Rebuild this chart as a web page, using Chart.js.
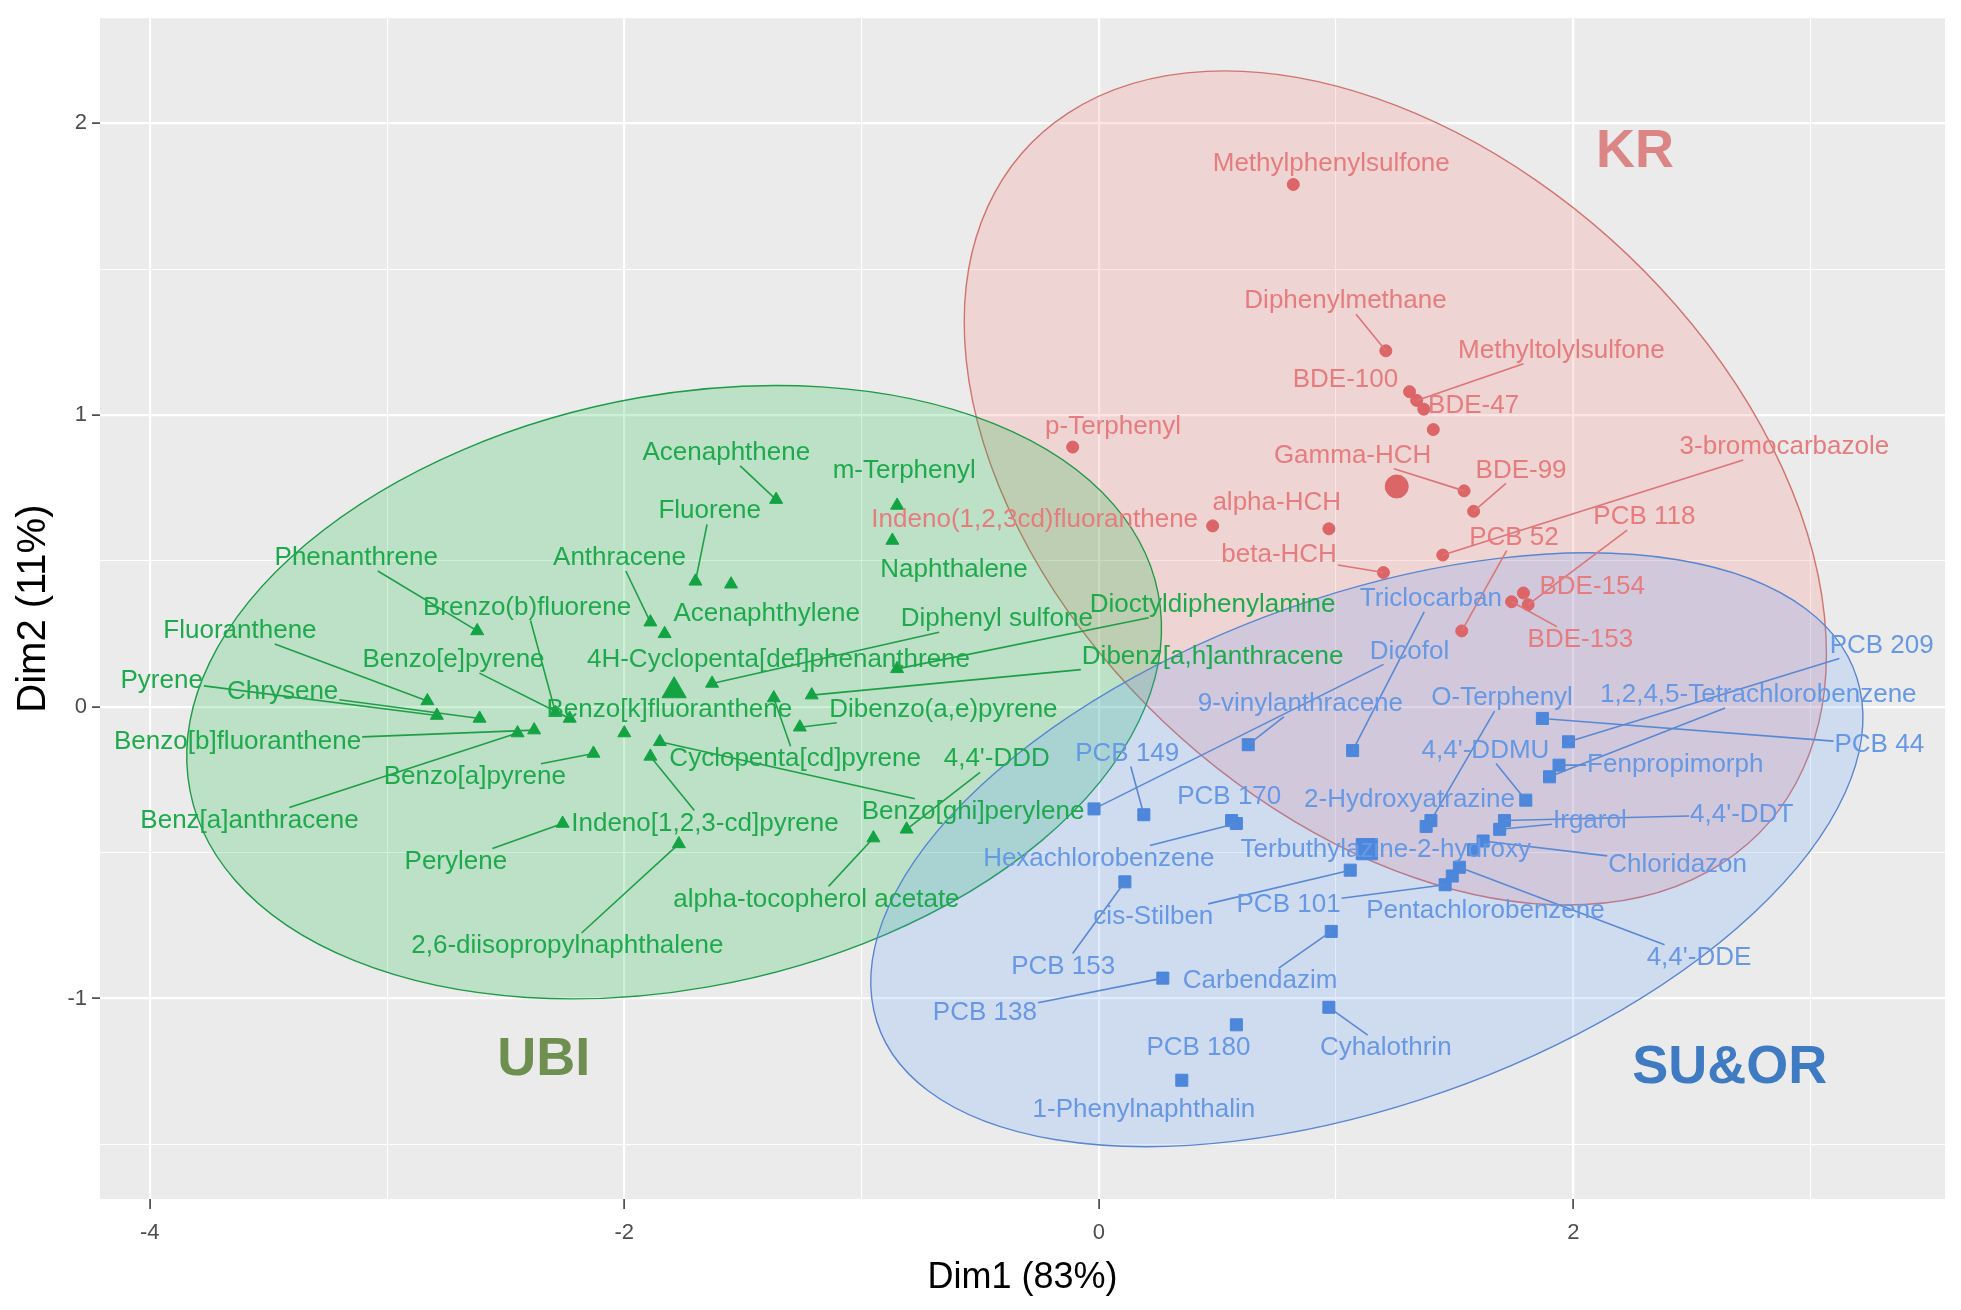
<!DOCTYPE html>
<html>
<head>
<meta charset="utf-8">
<title>PCA individuals – Dim1 vs Dim2</title>
<script src="https://cdn.jsdelivr.net/npm/chart.js@4.4.1/dist/chart.umd.min.js"></script>
<style>
  html, body { margin: 0; padding: 0; background: #ffffff; }
  canvas { display: block; }
</style>
</head>
<body>
<canvas id="pcaChart" width="1961" height="1310"></canvas>
<script>
const FONT = '"Liberation Sans", Arial, sans-serif';

// UBI group (triangles)
const ubiNames = ['Acenaphthene', 'm-Terphenyl', 'Fluorene', 'Phenanthrene', 'Anthracene', 'Naphthalene',
  'Brenzo(b)fluorene', 'Acenaphthylene', 'Diphenyl sulfone', 'Dioctyldiphenylamine', 'Fluoranthene',
  'Benzo[e]pyrene', '4H-Cyclopenta[def]phenanthrene', 'Dibenz[a,h]anthracene', 'Pyrene', 'Chrysene',
  'Benzo[k]fluoranthene', 'Dibenzo(a,e)pyrene', 'Benzo[b]fluoranthene', 'Benz[a]anthracene',
  'Cyclopenta[cd]pyrene', "4,4'-DDD", 'Benzo[a]pyrene', 'Benzo[ghi]perylene', 'Indeno[1,2,3-cd]pyrene',
  'Perylene', 'alpha-tocopherol acetate', '2,6-diisopropylnaphthalene'];
const ubiX = [-1.36, -0.85, -1.70, -2.62, -1.89, -0.87, -2.29, -1.55, -1.63, -0.85, -2.83, -2.23, -1.83, -1.21,
  -2.79, -2.61, -2.00, -1.26, -2.38, -2.45, -1.37, -0.81, -2.13, -1.85, -1.89, -2.26, -0.95, -1.77];
const ubiY = [0.71, 0.69, 0.43, 0.26, 0.29, 0.57, -0.02, 0.42, 0.08, 0.13, 0.02, -0.04, 0.25, 0.04,
  -0.03, -0.04, -0.09, -0.07, -0.08, -0.09, 0.03, -0.42, -0.16, -0.12, -0.17, -0.40, -0.45, -0.47];
const ubiLabelX = [-1.57, -0.82, -1.64, -3.13, -2.02, -0.61, -2.41, -1.40, -0.43, 0.48, -3.62, -2.72, -1.35, 0.48,
  -3.95, -3.44, -1.81, -0.655, -3.63, -3.58, -1.28, -0.43, -2.63, -0.53, -1.66, -2.71, -1.19, -2.24];
const ubiLabelY = [0.87, 0.81, 0.67, 0.51, 0.51, 0.47, 0.34, 0.32, 0.30, 0.35, 0.26, 0.16, 0.16, 0.17,
  0.09, 0.05, -0.01, -0.01, -0.12, -0.39, -0.18, -0.18, -0.24, -0.36, -0.40, -0.53, -0.66, -0.82];

// KR group (circles)
const krNames = ['Methylphenylsulfone', 'Diphenylmethane', 'Methyltolylsulfone', 'BDE-100', 'BDE-47', '',
  'p-Terphenyl', 'Gamma-HCH', 'Indeno(1,2,3cd)fluoranthene', 'alpha-HCH', 'BDE-99', '3-bromocarbazole',
  'beta-HCH', 'PCB 118', 'PCB 52', 'BDE-154', 'BDE-153'];
const krX = [0.82, 1.21, 1.34, 1.31, 1.37, 1.41, -0.11, 1.54, 0.48, 0.97, 1.58, 1.45, 1.20, 1.81, 1.53, 1.79, 1.74];
const krY = [1.79, 1.22, 1.05, 1.08, 1.02, 0.95, 0.89, 0.74, 0.62, 0.61, 0.67, 0.52, 0.46, 0.35, 0.26, 0.39, 0.36];
const krLabelX = [0.98, 1.04, 1.95, 1.04, 1.58, 1.41, 0.06, 1.07, -0.27, 0.75, 1.78, 2.89, 0.76, 2.30, 1.75, 2.08, 2.03];
const krLabelY = [1.86, 1.39, 1.22, 1.12, 1.03, 0.95, 0.96, 0.86, 0.64, 0.70, 0.81, 0.89, 0.52, 0.65, 0.58, 0.41, 0.23];

// SU&OR group (squares)
const suorNames = ['Triclocarban', 'Dicofol', '9-vinylanthracene', 'O-Terphenyl', '1,2,4,5-Tetrachlorobenzene',
  'PCB 209', 'PCB 44', 'Fenpropimorph', "4,4'-DDMU", 'PCB 149', 'PCB 170', '2-Hydroxyatrazine', 'Irgarol',
  "4,4'-DDT", 'Hexachlorobenzene', 'Terbuthylazine-2-hydroxy', 'Chloridazon', 'cis-Stilben', 'PCB 101',
  'Pentachlorobenzene', "4,4'-DDE", 'PCB 153', 'Carbendazim', 'PCB 138', 'PCB 180', 'Cyhalothrin',
  '1-Phenylnaphthalin'];
const suorX = [1.07, -0.02, 0.63, 1.40, 1.90, 1.98, 1.87, 1.94, 1.80, 0.19, 0.56, 1.38, 1.69, 1.71, 0.58, 1.58,
  1.62, 1.06, 1.46, 1.49, 1.52, 0.11, 0.98, 0.27, 0.58, 0.97, 0.35];
const suorY = [-0.15, -0.35, -0.13, -0.39, -0.24, -0.12, -0.04, -0.20, -0.32, -0.37, -0.39, -0.41, -0.42, -0.39,
  -0.40, -0.49, -0.46, -0.56, -0.61, -0.58, -0.55, -0.60, -0.77, -0.93, -1.09, -1.03, -1.28];
const suorLabelX = [1.40, 1.31, 0.85, 1.70, 2.78, 3.30, 3.29, 2.43, 1.63, 0.12, 0.55, 1.31, 2.07, 2.71, 0.0, 1.21,
  2.44, 0.23, 0.80, 1.63, 2.53, -0.15, 0.68, -0.48, 0.42, 1.21, 0.19];
const suorLabelY = [0.37, 0.19, 0.01, 0.03, 0.04, 0.21, -0.13, -0.20, -0.15, -0.16, -0.31, -0.32, -0.39, -0.37,
  -0.52, -0.49, -0.54, -0.72, -0.68, -0.70, -0.86, -0.89, -0.94, -1.05, -1.17, -1.17, -1.38];

// group means (big markers) and confidence ellipses, order KR, UBI, SU&OR
const groupNames = ['KR', 'UBI', 'SU&OR'];
const meanX = [1.256, -1.79, 1.13];
const meanY = [0.755, 0.055, -0.488];
const ellipseX = [1.25, -1.79, 1.13];
const ellipseY = [0.75, 0.05, -0.49];
const ellipseA = [1.97, 2.07, 2.15];
const ellipseB = [1.21, 1.02, 0.886];
const ellipseAngle = [-29.3, 8.1, 14.8];
const groupTagX = [2.26, -2.34, 2.66];
const groupTagY = [1.90, -1.21, -1.24];

const groups = [
  { names: krNames, x: krX, y: krY, lx: krLabelX, ly: krLabelY, shape: 'circle', r: 6, bigR: 11.5,
    point: '#DC6567', text: '#E67C7E', line: '#DD7479', fill: 'rgba(248,118,109,0.2)', edge: '#CF7470', tag: '#DB8585' },
  { names: ubiNames, x: ubiX, y: ubiY, lx: ubiLabelX, ly: ubiLabelY, shape: 'triangle', r: 7.5, bigR: 14,
    point: '#12A443', text: '#1EAA4C', line: '#1F9E48', fill: 'rgba(0,186,56,0.2)', edge: '#1E9A48', tag: '#6E8F50' },
  { names: suorNames, x: suorX, y: suorY, lx: suorLabelX, ly: suorLabelY, shape: 'rect', r: 8.5, bigR: 15,
    point: '#4D87DB', text: '#6798E4', line: '#5A89D4', fill: 'rgba(97,156,255,0.2)', edge: '#5A86CF', tag: '#3E7BC2' }
];

const datasets = [];
groups.forEach((g, k) => {
  datasets.push({
    label: groupNames[k],
    data: g.x.map((v, i) => ({ x: v, y: g.y[i] })),
    pointStyle: g.shape,
    pointRadius: g.r,
    backgroundColor: g.point,
    borderColor: g.point,
    borderWidth: 1
  });
  datasets.push({
    label: groupNames[k] + ' mean',
    data: [{ x: meanX[k], y: meanY[k] }],
    pointStyle: g.shape,
    pointRadius: g.bigR,
    backgroundColor: g.point,
    borderColor: g.point,
    borderWidth: 1
  });
});

const panelBg = {
  id: 'panelBg',
  beforeDraw(chart) {
    const { ctx, chartArea: a } = chart;
    ctx.save();
    ctx.fillStyle = '#EBEBEB';
    ctx.fillRect(a.left, a.top, a.width, a.height);
    ctx.restore();
  }
};

const ellipses = {
  id: 'ellipses',
  beforeDatasetsDraw(chart) {
    const { ctx, chartArea: a, scales: { x, y } } = chart;
    const sx = x.getPixelForValue(1) - x.getPixelForValue(0);
    const sy = y.getPixelForValue(1) - y.getPixelForValue(0);
    ctx.save();
    ctx.beginPath();
    ctx.rect(a.left, a.top, a.width, a.height);
    ctx.clip();
    groups.forEach((g, k) => {
      ctx.save();
      ctx.translate(x.getPixelForValue(ellipseX[k]), y.getPixelForValue(ellipseY[k]));
      ctx.scale(sx, sy);
      ctx.rotate(ellipseAngle[k] * Math.PI / 180);
      ctx.beginPath();
      ctx.ellipse(0, 0, ellipseA[k], ellipseB[k], 0, 0, 2 * Math.PI);
      ctx.restore();
      ctx.fillStyle = g.fill;
      ctx.fill();
      ctx.strokeStyle = g.edge;
      ctx.lineWidth = 1.4;
      ctx.stroke();
    });
    ctx.restore();
  }
};

// text labels with leader segments, a bit like ggrepel
const labels = {
  id: 'labels',
  afterDatasetsDraw(chart) {
    const { ctx, chartArea: a, scales: { x, y } } = chart;
    ctx.save();
    ctx.beginPath();
    ctx.rect(a.left, a.top, a.width, a.height);
    ctx.clip();
    ctx.font = '26px ' + FONT;
    ctx.textAlign = 'center';
    ctx.textBaseline = 'middle';

    groups.forEach(g => {
      g.names.forEach((name, i) => {
        if (!name) return;
        const px = x.getPixelForValue(g.x[i]), py = y.getPixelForValue(g.y[i]);
        const lx = x.getPixelForValue(g.lx[i]), ly = y.getPixelForValue(g.ly[i]);
        const hw = ctx.measureText(name).width / 2 + 1, hh = 13;
        const dx = px - lx, dy = py - ly;
        const gap = Math.hypot(Math.max(Math.abs(dx) - hw, 0), Math.max(Math.abs(dy) - hh, 0));
        if (gap < 25) return;
        const t = Math.min(dx ? hw / Math.abs(dx) : Infinity, dy ? hh / Math.abs(dy) : Infinity);
        ctx.strokeStyle = g.line;
        ctx.lineWidth = 1.6;
        ctx.beginPath();
        ctx.moveTo(px, py);
        ctx.lineTo(lx + dx * t, ly + dy * t);
        ctx.stroke();
      });
    });

    groups.forEach(g => {
      ctx.fillStyle = g.text;
      g.names.forEach((name, i) => {
        if (!name) return;
        ctx.fillText(name, x.getPixelForValue(g.lx[i]), y.getPixelForValue(g.ly[i]));
      });
    });

    ctx.font = 'bold 54px ' + FONT;
    groups.forEach((g, k) => {
      ctx.fillStyle = g.tag;
      ctx.fillText(groupNames[k], x.getPixelForValue(groupTagX[k]), y.getPixelForValue(groupTagY[k]));
    });
    ctx.restore();
  }
};

const isEven = v => Math.abs(v % 2) < 1e-9;
const isWhole = v => Math.abs(v - Math.round(v)) < 1e-9;

Chart.defaults.font.family = FONT;

new Chart(document.getElementById('pcaChart'), {
  type: 'scatter',
  data: { datasets },
  plugins: [panelBg, ellipses, labels],
  options: {
    responsive: false,
    animation: false,
    devicePixelRatio: 1,
    events: [],
    layout: { padding: { top: 14, right: 11, left: 0, bottom: 0 } },
    plugins: {
      legend: { display: false },
      tooltip: { enabled: false }
    },
    scales: {
      x: {
        type: 'linear',
        min: -4.21,
        max: 3.567,
        afterFit: s => { s.height = 111; },
        border: { display: false },
        grid: {
          color: '#FFFFFF',
          lineWidth: c => (c.tick && isEven(c.tick.value) ? 2.2 : 1.1),
          drawTicks: true,
          tickLength: 10,
          tickWidth: 1.5,
          tickColor: c => (c.tick && isEven(c.tick.value) ? '#333333' : 'rgba(0,0,0,0)')
        },
        ticks: {
          stepSize: 1,
          includeBounds: false,
          autoSkip: false,
          maxRotation: 0,
          padding: 11,
          color: '#4D4D4D',
          font: { size: 22 },
          callback: v => (isEven(v) ? String(v) : '')
        },
        title: {
          display: true,
          text: 'Dim1 (83%)',
          color: '#000000',
          font: { size: 36 },
          padding: { top: 0, bottom: 10 }
        }
      },
      y: {
        type: 'linear',
        min: -1.687,
        max: 2.36,
        afterFit: s => { s.width = 100; },
        border: { display: false },
        grid: {
          color: '#FFFFFF',
          lineWidth: c => (c.tick && isWhole(c.tick.value) ? 2.2 : 1.1),
          drawTicks: true,
          tickLength: 8,
          tickWidth: 1.5,
          tickColor: c => (c.tick && isWhole(c.tick.value) ? '#333333' : 'rgba(0,0,0,0)')
        },
        ticks: {
          stepSize: 0.5,
          includeBounds: false,
          autoSkip: false,
          padding: 5,
          color: '#4D4D4D',
          font: { size: 22 },
          callback: v => (isWhole(v) ? String(Math.round(v)) : '')
        },
        title: {
          display: true,
          text: 'Dim2 (11%)',
          color: '#000000',
          font: { size: 40 },
          padding: { top: 10, bottom: 0 }
        }
      }
    }
  }
});
</script>
</body>
</html>
